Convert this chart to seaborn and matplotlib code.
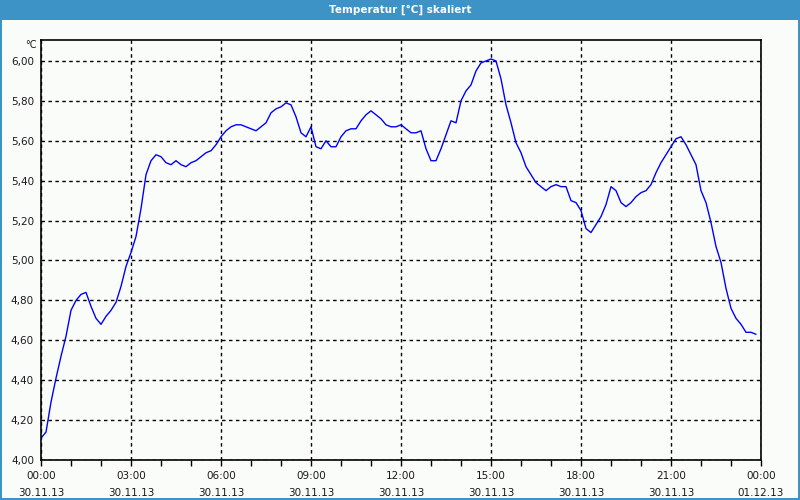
import numpy as np
import pandas as pd
import matplotlib
matplotlib.use("Agg")
import matplotlib.pyplot as plt
from matplotlib.patches import Rectangle
import seaborn as sns

title = "Temperatur [°C] skaliert"
unit = "°C"

# 10-minute readings from 00:00 (30.11.13) to 23:50
temps = [
    4.11, 4.14, 4.29, 4.41, 4.52, 4.62, 4.75, 4.80, 4.83, 4.84,
    4.77, 4.71, 4.68, 4.72, 4.75, 4.79, 4.87, 4.97, 5.04, 5.12,
    5.26, 5.43, 5.50, 5.53, 5.52, 5.49, 5.48, 5.50, 5.48, 5.47,
    5.49, 5.50, 5.52, 5.54, 5.55, 5.58, 5.62, 5.65, 5.67, 5.68,
    5.68, 5.67, 5.66, 5.65, 5.67, 5.69, 5.74, 5.76, 5.77, 5.79,
    5.78, 5.72, 5.64, 5.62, 5.67, 5.57, 5.56, 5.60, 5.57, 5.57,
    5.62, 5.65, 5.66, 5.66, 5.70, 5.73, 5.75, 5.73, 5.71, 5.68,
    5.67, 5.67, 5.68, 5.66, 5.64, 5.64, 5.65, 5.56, 5.50, 5.50,
    5.56, 5.63, 5.70, 5.69, 5.80, 5.85, 5.88, 5.95, 5.99, 6.00,
    6.01, 6.00, 5.91, 5.78, 5.69, 5.59, 5.54, 5.47, 5.43, 5.39,
    5.37, 5.35, 5.37, 5.38, 5.37, 5.37, 5.30, 5.29, 5.25, 5.16,
    5.14, 5.18, 5.22, 5.28, 5.37, 5.35, 5.29, 5.27, 5.29, 5.32,
    5.34, 5.35, 5.38, 5.44, 5.49, 5.53, 5.57, 5.61, 5.62, 5.58,
    5.53, 5.48, 5.35, 5.29, 5.19, 5.07, 4.99, 4.86, 4.76, 4.71,
    4.68, 4.64, 4.64, 4.63,
]
hours = [i / 6.0 for i in range(len(temps))]

x_tick_hours = [0, 3, 6, 9, 12, 15, 18, 21, 24]
x_tick_times = ["00:00", "03:00", "06:00", "09:00", "12:00", "15:00", "18:00", "21:00", "00:00"]
x_tick_dates = ["30.11.13"] * 8 + ["01.12.13"]
y_tick_values = [4.0, 4.2, 4.4, 4.6, 4.8, 5.0, 5.2, 5.4, 5.6, 5.8, 6.0]
y_tick_labels = ["4,00", "4,20", "4,40", "4,60", "4,80", "5,00", "5,20", "5,40", "5,60", "5,80", "6,00"]

df = pd.DataFrame({"hour": hours, "temp": temps})

sns.set_theme(style="white")
plt.rcParams["font.family"] = ["DejaVu Sans"]

bg = "#fafcfa"
blue_bar = "#3d92c6"

fig = plt.figure(figsize=(8, 5), dpi=100, facecolor=bg)
ax = fig.add_axes([41 / 800, 40 / 500, 720 / 800, 420 / 500])
ax.set_facecolor(bg)

sns.lineplot(data=df, x="hour", y="temp", ax=ax, color="#0000ff", linewidth=1.0)

ax.set_xlim(0, 24)
ax.set_ylim(4.0, 6.105)

ax.set_xticks(x_tick_hours)
ax.set_xticklabels([f"{t}\n{d}" for t, d in zip(x_tick_times, x_tick_dates)],
                   fontsize=7.5, color="#1a1a1a", linespacing=1.85)
ax.set_xticks(range(0, 25), minor=True)
ax.tick_params(axis="x", which="both", direction="out", length=4, width=1,
               color="black", bottom=True, pad=4)
ax.set_yticks(y_tick_values)
ax.set_yticklabels(y_tick_labels, fontsize=7.5, color="#1a1a1a")
ax.tick_params(axis="y", length=0, pad=5)

ax.grid(True, which="major", color="black", linestyle=(0, (2.5, 2.5)), linewidth=1.0)
ax.set_axisbelow(True)
for s in ax.spines.values():
    s.set_color("black")
    s.set_linewidth(1.2)

ax.set_xlabel("")
ax.set_ylabel("")

# window title bar and borders
fig.patches.append(Rectangle((0, 480 / 500), 1, 20 / 500, transform=fig.transFigure,
                             facecolor=blue_bar, edgecolor="none", zorder=0))
fig.patches.append(Rectangle((0, 0), 2 / 800, 1, transform=fig.transFigure,
                             facecolor=blue_bar, edgecolor="none", zorder=0))
fig.patches.append(Rectangle((798 / 800, 0), 2 / 800, 1, transform=fig.transFigure,
                             facecolor=blue_bar, edgecolor="none", zorder=0))
fig.patches.append(Rectangle((0, 0), 1, 2 / 500, transform=fig.transFigure,
                             facecolor=blue_bar, edgecolor="none", zorder=0))
fig.text(0.5, 490 / 500, title, ha="center", va="center", color="white",
         fontsize=7.5, fontweight="bold")
fig.text(37 / 800, 1 - 45 / 500, unit, ha="right", va="center",
         fontsize=7, color="#1a1a1a")

fig.savefig("out.png", dpi=100, facecolor=bg)
